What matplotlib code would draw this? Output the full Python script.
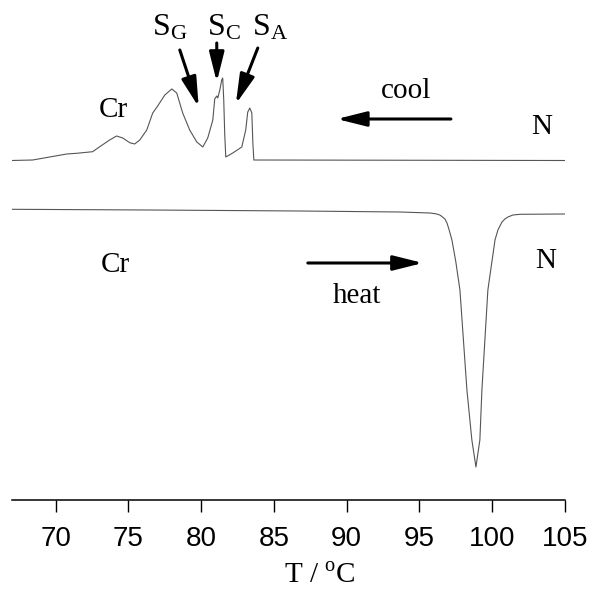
import numpy as np
import matplotlib
matplotlib.use('Agg')
import matplotlib.pyplot as plt
from matplotlib.patches import FancyArrowPatch

plt.rcParams['font.family'] = ['Liberation Serif', 'DejaVu Serif']
plt.rcParams['mathtext.fontset'] = 'custom'
plt.rcParams['mathtext.rm'] = 'Liberation Serif'

# DSC traces (arbitrary heat-flow units)
cool_T = [66.97, 68.42, 69.59, 70.76, 71.44, 72.54, 73.03, 73.71, 74.19, 74.61,
          75.09, 75.43, 75.78, 76.26, 76.67, 77.01, 77.50, 77.98, 78.32, 78.73,
          79.21, 79.70, 80.11, 80.45, 80.80, 80.93, 81.07, 81.14, 81.28, 81.41,
          81.48, 81.55, 81.62, 81.69, 82.17, 82.79, 83.06, 83.20, 83.34, 83.48,
          83.55, 83.62, 105.0]
cool_hf = [0.0, 0.05, 0.35, 0.65, 0.72, 0.88, 1.38, 2.05, 2.45, 2.25,
           1.78, 1.65, 2.05, 3.05, 4.75, 5.45, 6.55, 7.15, 6.75, 4.75,
           3.05, 1.85, 1.35, 2.25, 4.05, 6.15, 6.45, 6.25, 7.05, 8.05,
           8.25, 6.05, 2.55, 0.35, 0.75, 1.35, 3.05, 4.85, 5.25, 4.75,
           1.75, 0.05, 0.0]

heat_T = [66.97, 76.46, 86.78, 93.65, 95.72, 96.13, 96.40, 96.54, 96.75, 96.89,
          97.02, 97.23, 97.50, 97.78, 98.26, 98.60, 98.88, 99.15, 99.29, 99.70,
          100.19, 100.39, 100.67, 100.87, 101.08, 101.42, 101.91, 105.0]
heat_hf = [0.27, 0.2, 0.1, 0.0, -0.1, -0.18, -0.3, -0.45, -0.7, -1.1,
           -1.7, -2.8, -5.0, -7.8, -17.8, -22.8, -25.5, -22.8, -17.8, -7.8,
           -2.8, -1.8, -1.0, -0.7, -0.5, -0.3, -0.23, -0.2]

cool_offset = 33.95
heat_offset = 28.8

tick_vals = [70, 75, 80, 85, 90, 95, 100, 105]

fig = plt.figure(figsize=(5.93, 5.89), dpi=100)
ax = fig.add_axes([12/593, 89/589, 553/593, 500/589])

ax.plot(cool_T, np.array(cool_hf) + cool_offset, color='#555555', lw=0.8)
ax.plot(heat_T, np.array(heat_hf) + heat_offset, color='#555555', lw=0.8)

ax.set_xlim(67, 105)
ax.set_ylim(0, 50)

for s in ['top', 'left', 'right']:
    ax.spines[s].set_visible(False)
ax.spines['bottom'].set_linewidth(1.1)
ax.set_yticks([])
ax.set_xticks(tick_vals)
ax.set_xticklabels([str(v) for v in tick_vals], fontfamily='Liberation Sans', fontsize=20)
ax.tick_params(axis='x', direction='out', length=8.6, width=1.0, pad=10)

ax.set_xlabel(r'T / $^{\mathrm{o}}$C', fontsize=21)
ax.xaxis.set_label_coords(0.557, -0.166)
ax.xaxis.label.set_va('baseline')

# labels
txt = dict(fontsize=21, ha='center', va='baseline')
ax.text(77.84, 46.5, r'$\mathrm{S_G}$', fontsize=23, ha='center', va='baseline')
ax.text(81.55, 46.5, r'$\mathrm{S_C}$', fontsize=23, ha='center', va='baseline')
ax.text(84.71, 46.5, r'$\mathrm{S_A}$', fontsize=23, ha='center', va='baseline')
ax.text(73.99, 38.3, 'Cr', **txt)
ax.text(74.13, 22.8, 'Cr', **txt)
ax.text(103.42, 36.6, 'N', **txt)
ax.text(103.69, 23.2, 'N', **txt)
ax.text(94.07, 40.2, 'cool', **txt)
ax.text(90.70, 19.7, 'heat', **txt)

# arrows
arrows = [((78.53, 45.0), (79.83, 39.3)),
          ((81.07, 45.7), (81.07, 41.8)),
          ((83.89, 45.2), (82.38, 39.6)),
          ((97.16, 38.1), (89.32, 38.1)),
          ((87.33, 23.7), (95.24, 23.7))]
for tail, tip in arrows:
    ax.add_patch(FancyArrowPatch(tail, tip,
                                 arrowstyle='-|>,head_length=1.8,head_width=0.45',
                                 mutation_scale=10, lw=2.2, color='black',
                                 shrinkA=0, shrinkB=0))

fig.savefig('out.png', dpi=100)
